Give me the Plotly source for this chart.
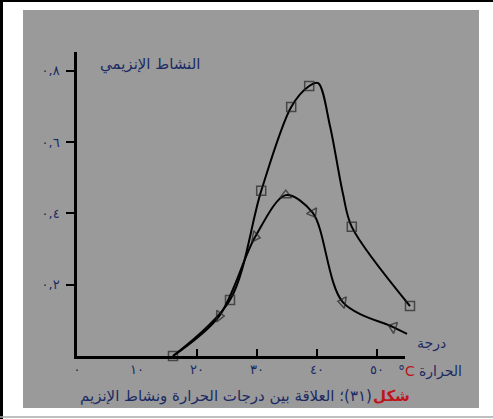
import plotly.graph_objects as go

# ---- data ----
sq_temp = [16, 25.5, 30.7, 35.7, 38.7, 40.2, 42.2, 44.3, 45.8, 55.5]
sq_act = [0.0, 0.157, 0.463, 0.698, 0.757, 0.765, 0.642, 0.457, 0.362, 0.140]
sq_marked = [True, True, True, True, True, False, False, False, True, True]

tr_temp = [16, 23.7, 29.7, 34.8, 39.3, 44.3, 52.7, 55.0]
tr_act = [0.0, 0.112, 0.334, 0.451, 0.401, 0.151, 0.081, 0.062]
tr_marked = [False, True, True, True, True, True, True, False]
tr_angle = [0, 90, 100, 0, 150, 280, 290, 0]

x_tickvals = [0, 10, 20, 30, 40, 50]
x_ticktext = ["٠", "١٠", "٢٠", "٣٠", "٤٠", "٥٠"]
x_tickmarks = [20, 30, 40, 50]
y_tickvals = [0.2, 0.4, 0.6, 0.8]
y_ticktext = ["٠,٢", "٠,٤", "٠,٦", "٠,٨"]

y_title = "النشاط الإنزيمي"
x_title_1 = "درجة"
x_title_2 = "الحرارة"
caption_red = "شكل"
caption_rest = "(٣١)؛ العلاقة بين درجات الحرارة ونشاط الإنزيم"

# ---- layout geometry (pixels) ----
W, H = 493, 419
PL, PR, PT, PB = 23, 479, 10, 408  # gray panel
NAVY = "#1b2a63"
RED = "#c0141c"
GRAY = "#9a9a9a"
FONT = "DejaVu Sans"


def px(x):
    return (x - PL) / (PR - PL)


def py(y):
    return (PB - y) / (PB - PT)


fig = go.Figure()

fig.add_trace(go.Scatter(
    x=sq_temp, y=sq_act, mode="lines+markers",
    line=dict(color="black", width=2, shape="spline", smoothing=0.9),
    marker=dict(symbol="square-open", size=[9 if m else 0 for m in sq_marked],
                color="#222", line=dict(width=1.5, color="#222")),
    cliponaxis=False, showlegend=False, xaxis="x", yaxis="y"))

fig.add_trace(go.Scatter(
    x=tr_temp, y=tr_act, mode="lines+markers",
    line=dict(color="black", width=2, shape="spline", smoothing=0.9),
    marker=dict(symbol="triangle-up-open", size=[10 if m else 0 for m in tr_marked],
                angle=tr_angle,
                color="#222", line=dict(width=1.5, color="#222")),
    cliponaxis=False, showlegend=False, xaxis="x", yaxis="y"))

# empty traces so the axis subplots exist
fig.add_trace(go.Scatter(x=[None], y=[None], xaxis="x2", yaxis="y2", showlegend=False, hoverinfo="skip"))
fig.add_trace(go.Scatter(x=[None], y=[None], xaxis="x3", yaxis="y2", showlegend=False, hoverinfo="skip"))

# scales: 6 px per degree, 0 at x=77 ; 356.7 px per unit, 0 at y=356
XPU, X0 = 6.0, 77
YPU, Y0 = 356.7, 356
xr_main = [(PL - X0) / XPU, (PR - X0) / XPU]
yr_main = [(Y0 - PB) / YPU, (Y0 - PT) / YPU]
AX_R, AX_T = 405, 52
xr_ax = [0, (AX_R - X0) / XPU]
yr_ax = [0, (Y0 - AX_T) / YPU]
xdom = [px(X0), px(AX_R)]
ydom = [py(Y0), py(AX_T)]

tickfont = dict(family=FONT, size=13, color=NAVY)


def note(text, x, y, xanchor="center", size=14, color=NAVY):
    return dict(text=text, xref="paper", yref="paper", x=px(x), y=py(y),
                xanchor=xanchor, yanchor="middle", showarrow=False,
                font=dict(family=FONT, size=size, color=color))


fig.update_layout(
    width=W, height=H,
    margin=dict(l=PL, r=W - PR, t=PT, b=H - PB, pad=0),
    paper_bgcolor="white", plot_bgcolor="rgba(0,0,0,0)",
    xaxis=dict(range=xr_main, visible=False, domain=[0, 1], anchor="y"),
    yaxis=dict(range=yr_main, visible=False, domain=[0, 1], anchor="x"),
    xaxis2=dict(range=xr_ax, domain=xdom, anchor="y2", showline=True, linecolor="black",
                linewidth=2.5, showgrid=False, zeroline=False, tickmode="array",
                tickvals=x_tickvals, ticktext=x_ticktext, ticks="", tickfont=tickfont,
                ticklabelstandoff=0),
    xaxis3=dict(range=xr_ax, overlaying="x2", anchor="y2", showline=False, showgrid=False,
                zeroline=False, tickmode="array", tickvals=x_tickmarks, ticks="inside",
                ticklen=7, tickwidth=2, tickcolor="black", showticklabels=False),
    yaxis2=dict(range=yr_ax, domain=ydom, anchor="x2", showline=True, linecolor="black",
                linewidth=2.5, showgrid=False, zeroline=False, tickmode="array",
                tickvals=y_tickvals, ticktext=y_ticktext, ticks="outside", ticklen=8,
                tickwidth=2, tickcolor="black", tickfont=tickfont, ticklabelstandoff=4),
    shapes=[
        dict(type="rect", xref="paper", yref="paper", x0=0, x1=1, y0=0, y1=1,
             fillcolor=GRAY, line=dict(width=0), layer="below"),
        dict(type="line", xref="paper", yref="paper", x0=px(1.5), x1=px(1.5), y0=py(0), y1=py(H),
             line=dict(color="black", width=3)),
        dict(type="line", xref="paper", yref="paper", x0=px(0), x1=px(W), y0=py(1), y1=py(1),
             line=dict(color="black", width=2)),
        dict(type="line", xref="paper", yref="paper", x0=px(0), x1=px(W), y0=py(417), y1=py(417),
             line=dict(color="#aaaaaa", width=1.5)),
    ],
    annotations=[
        note(y_title, 150, 64, size=15),
        note(x_title_1, 448, 343, xanchor="right"),
        note(x_title_2, 464, 371, xanchor="right"),
        note("°<span style='color:" + RED + "'>C</span>", 417, 371, xanchor="right"),
        note("<b>" + caption_red + "</b>", 412, 396, xanchor="right", size=15, color=RED),
        note("\u200F" + caption_rest, 374, 396, xanchor="right", size=15),
    ],
)

fig.write_html("out.html", config={"displayModeBar": False},
               post_script="document.body.style.margin='0px';document.body.style.overflow='hidden';")
